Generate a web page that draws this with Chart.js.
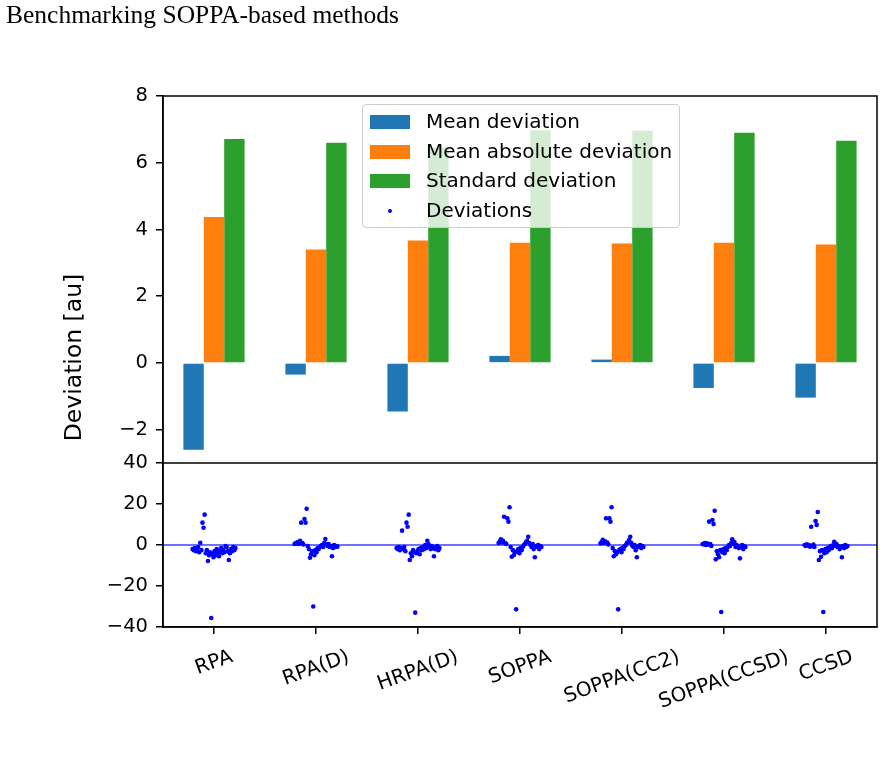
<!DOCTYPE html>
<html>
<head>
<meta charset="utf-8">
<script src="https://cdn.jsdelivr.net/npm/chart.js@4/dist/chart.umd.min.js"></script>
<style>
  body { margin: 0; background: #fff; }
  #wrap { position: relative; width: 885px; height: 767px; }
  #title { position: absolute; left: 6px; top: 2px; font: 25.5px/25px "Liberation Serif", serif; color: #000; white-space: nowrap; }
  #legend { position: absolute; left: 362px; top: 104px; width: 316px; height: 122px; border: 1px solid #ccc; border-radius: 4px; background: rgba(255,255,255,0.8); font: 20px "DejaVu Sans", sans-serif; }
  .row { position: absolute; left: 0; height: 30px; width: 100%; }
  .sw { position: absolute; left: 7px; top: 8px; width: 40px; height: 14px; }
  .dot { position: absolute; left: 25px; top: 13px; width: 4px; height: 4px; border-radius: 2px; background: #0000ff; }
  .lab { position: absolute; left: 63px; top: 2px; line-height: 24px; white-space: nowrap; }
</style>
</head>
<body>
<div id="wrap">
  <canvas id="chart" width="885" height="767"></canvas>
  <div id="title">Benchmarking SOPPA-based methods</div>
  <div id="legend"></div>
</div>
<script>
const methods = ["RPA", "RPA(D)", "HRPA(D)", "SOPPA", "SOPPA(CC2)", "SOPPA(CCSD)", "CCSD"];

const meanDev = [-2.6, -0.35, -1.46, 0.21, 0.1, -0.75, -1.04];
const meanAbsDev = [4.37, 3.40, 3.67, 3.60, 3.58, 3.60, 3.55];
const stdDev = [6.71, 6.60, 6.46, 6.97, 6.96, 6.90, 6.66];

// per-molecule deviations, one list per method
const devRPA = [-2, -2.5, -1.5, -3, -2, -1, -3.5, 1.1, -2.5, 10.9, 8.4, 14.8, -4, -2.5, -7.8, -5, -3.5, -35.6, -4.5, -6,
  -3, -5, -2, -4, -5.5, -3, -1.5, -4, -2.5, -3.5, -0.5, -1, -3, -7.3, -4, -2, -3, -1, -2.5, -1.5];
const devRPAD = [0.5, 1, 0.8, 1.5, 0.5, 2, 10.9, 1, 0.3, 12.7, 10.9, 17.7, -0.5, -2, -6.2, -4.5, -3, -30, -5, -2.5,
  -3.5, -1.5, -2, -1, -0.5, 0, -1, 1, 2.9, 0.5, -0.5, 0.5, -1, -0.5, -5.5, -1.5, 0, -1, -0.5, -0.8];
const devHRPAD = [-1.5, -2, -1, -2.5, -1.5, 7, -2, -1, -3, 10.9, 8.9, 14.8, -7.3, -4, -5.5, -2.5, -3.5, -33, -4, -3,
  -2, -4.5, -1.5, -2.5, -1, -2, 0, -1.5, 2.1, 0.5, -1, -2, -0.5, -1.5, -5.5, -2, -1, -0.5, -2.5, -1.5];
const devSOPPA = [1, 1.6, 2.8, 1.2, 2, 13.8, 1, 0.5, 13, 11.4, 18.4, -1, -5.7, -2.5, -4.9, -3.5, -31.4, -3, -2, -4,
  -1.5, -2.5, -1, 0, 0.5, 1.5, 2, 4, 1, 0, -1, 0.5, -2, -6, -0.5, -1, 0, -2, -0.5, -1];
const devSOPPACC2 = [0.8, 1.5, 2.5, 1, 1.8, 13, 1.2, 0.3, 13, 11.4, 18.4, -1.5, -5.5, -3, -4.5, -3.5, -31.4, -2.5, -2, -3.5,
  -1.5, -2, -0.5, 0, 1, 1.5, 2.5, 4, 1, -0.5, -1, 0, -2.5, -6, -1, -0.5, 0, -1.5, -0.5, -1];
const devSOPPACCSD = [0.5, 0.3, 1, 0, 0.8, 0.2, 11.4, 0.5, -0.5, 12.2, 10.2, 16.7, -7, -3, -4.5, -6, -2.5, -32.7, -3.5, -2,
  -4, -1.5, -2.5, -1, 0, -0.5, 1, 2.8, 0.5, 1.5, -1, 0, -0.5, -1.5, -6.5, -1, 0, -2, -0.5, -1];
const devCCSD = [0, -0.5, 0.3, -0.3, 0, -0.8, 8.9, -0.5, 0.2, -1, 11.7, 9.8, 16.1, -7.3, -3, -5.7, -2.5, -32.7, -4, -2,
  -3.5, -1.5, -2.5, -1, -0.5, -1.5, 0, 1.6, -0.5, 0.5, -1, -0.5, -2, -1, -6, -0.5, -1.5, 0, -1, -0.5];

const deviations = [devRPA, devRPAD, devHRPAD, devSOPPA, devSOPPACC2, devSOPPACCSD, devCCSD];

const topTicks = [-2, 0, 2, 4, 6, 8];
const bottomTicks = [-40, -20, 0, 20, 40];

const FONT = "DejaVu Sans";
const minus = v => String(v).replace("-", "\u2212");

// spread each method's molecules across a small band around its tick
const scatterPts = [];
deviations.forEach((list, i) => {
  list.forEach((d, k) => {
    scatterPts.push({ x: i - 0.21 + 0.42 * k / (list.length - 1), y: d });
  });
});

const barSet = (label, vals, color) => ({
  type: "bar",
  label: label,
  data: vals.map((v, i) => ({ x: i, y: v })),
  backgroundColor: color,
  borderWidth: 0,
  categoryPercentage: 0.6,
  barPercentage: 1.0,
  yAxisID: "yB",
});

const axisGrid = { drawOnChartArea: false, offset: false, color: "#000", lineWidth: 1.5, tickLength: 7 };
const axisBorder = { color: "#000", width: 1.5 };
const yTickOpts = { color: "#000", font: { family: FONT, size: 19.5 }, padding: 8, autoSkip: false, callback: minus };

const framePlugin = {
  id: "frame",
  afterDraw(chart) {
    const { ctx, chartArea: a, scales } = chart;
    ctx.save();
    ctx.strokeStyle = "#000";
    ctx.lineWidth = 1.5;
    ctx.strokeRect(a.left, a.top, a.right - a.left, a.bottom - a.top);
    const yb = scales.yB.bottom;
    ctx.beginPath();
    ctx.moveTo(a.left, yb);
    ctx.lineTo(a.right, yb);
    ctx.stroke();

    // rotated category labels, centred under their tick
    ctx.fillStyle = "#000";
    ctx.font = "20px " + FONT;
    ctx.textAlign = "center";
    ctx.textBaseline = "middle";
    const ang = 20 * Math.PI / 180;
    methods.forEach((m, i) => {
      const x = scales.x.getPixelForValue(i);
      const w = ctx.measureText(m).width;
      const h = 22;
      const bh = w * Math.sin(ang) + h * Math.cos(ang);
      ctx.save();
      ctx.translate(x, a.bottom + 19 + bh / 2);
      ctx.rotate(-ang);
      ctx.fillText(m, 0, 0);
      ctx.restore();
    });

    // y label for both panels
    ctx.font = "23.5px " + FONT;
    ctx.save();
    ctx.translate(75, (a.top + a.bottom) / 2 - 4);
    ctx.rotate(-Math.PI / 2);
    ctx.fillText("Deviation [au]", 0, 0);
    ctx.restore();
    ctx.restore();
  },
};

const chart = new Chart(document.getElementById("chart"), {
  type: "bar",
  data: {
    datasets: [
      barSet("Mean deviation", meanDev, "#1f77b4"),
      barSet("Mean absolute deviation", meanAbsDev, "#ff7f0e"),
      barSet("Standard deviation", stdDev, "#2ca02c"),
      {
        type: "scatter",
        label: "Deviations",
        data: scatterPts,
        backgroundColor: "#0000ff",
        borderWidth: 0,
        pointRadius: 2.3,
        yAxisID: "yS",
      },
      {
        type: "line",
        label: "zero",
        data: [{ x: -0.5, y: 0 }, { x: 6.5, y: 0 }],
        borderColor: "#4040ff",
        borderWidth: 1.3,
        pointRadius: 0,
        yAxisID: "yS",
      },
    ],
  },
  plugins: [framePlugin],
  options: {
    responsive: false,
    animation: false,
    layout: { padding: { top: 96, right: 8, left: 0, bottom: 0 } },
    plugins: { legend: { display: false }, tooltip: { enabled: false } },
    scales: {
      x: {
        type: "linear",
        offset: false,
        min: -0.5,
        max: 6.5,
        afterBuildTicks: s => { s.ticks = methods.map((_, i) => ({ value: i })); },
        afterFit: s => { s.height = 140; },
        ticks: { display: false, autoSkip: false },
        grid: axisGrid,
        border: axisBorder,
      },
      yB: {
        type: "linear",
        position: "left",
        stack: "panels",
        stackWeight: 367,
        weight: 2,
        min: -3,
        max: 8,
        afterBuildTicks: s => { s.ticks = topTicks.map(v => ({ value: v })); },
        afterFit: s => { s.width = 163; },
        ticks: yTickOpts,
        grid: axisGrid,
        border: axisBorder,
      },
      yS: {
        type: "linear",
        position: "left",
        stack: "panels",
        stackWeight: 164,
        weight: 1,
        min: -40,
        max: 40,
        afterBuildTicks: s => { s.ticks = bottomTicks.map(v => ({ value: v })); },
        afterFit: s => { s.width = 163; },
        ticks: yTickOpts,
        grid: axisGrid,
        border: axisBorder,
      },
    },
  },
});

// legend drawn inside the top panel, from the dataset labels
const legend = document.getElementById("legend");
chart.data.datasets.slice(0, 4).forEach((ds, i) => {
  const row = document.createElement("div");
  row.className = "row";
  row.style.top = (2 + i * 29.7) + "px";
  const mark = document.createElement("div");
  if (ds.type === "bar") {
    mark.className = "sw";
    mark.style.background = ds.backgroundColor;
  } else {
    mark.className = "dot";
  }
  const lab = document.createElement("div");
  lab.className = "lab";
  lab.textContent = ds.label;
  row.appendChild(mark);
  row.appendChild(lab);
  legend.appendChild(row);
});
</script>
</body>
</html>
